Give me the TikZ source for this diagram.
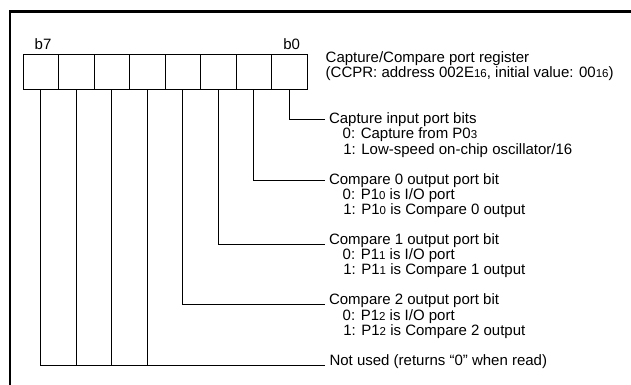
\documentclass[tikz,border=0pt]{standalone}
\usepackage{fontspec}
\setmainfont{Liberation Sans}
\newcommand{\sm}[1]{{\fontsize{11.5}{12}\selectfont #1}}
\tikzset{
  frameline/.style={line width=2.6pt,black},
  regcell/.style={draw=black,line width=0.8pt,minimum width=35.5pt,minimum height=35.5pt,inner sep=0pt,outer sep=0pt,anchor=north west},
  leader/.style={draw=black,line width=0.8pt},
  txt/.style={anchor=base west,inner sep=0pt,outer sep=0pt,font=\fontsize{15}{16}\selectfont,text=black}
}
\begin{document}
\begin{tikzpicture}[x=1pt,y=-1pt]
\useasboundingbox (0,0) rectangle (631,385);
\draw[frameline] (10,385) -- (10,11.3) -- (631,11.3);
\foreach \n/\i in {7/0,6/1,5/2,4/3,3/4,2/5,1/6,0/7}
  \node[regcell] (c\n) at ({23+35.5*\i},54) {};
\node[txt] (b7) at (34.7,50) {b7};
\node[txt] (b0) at (283.3,50) {b0};
\node[txt] (t1) at (325.7,63) {Capture/Compare port register};
\node[txt] (t2) at (325.7,78) {(CCPR: address 002E\sm{16}, initial value: 00\sm{16})};
\coordinate (e0) at (325,119.5);
\coordinate (e1) at (325,180);
\coordinate (e2) at (325,244);
\coordinate (e3) at (325,304.3);
\coordinate (e4) at (325,365);
\node[txt] (a0) at (329,124) {Capture input port bits};
\node[txt] (a1) at (342.7,139) {0: Capture from P0\sm{3}};
\node[txt] (a2) at (343.3,154) {1: Low-speed on-chip oscillator/16};
\node[txt] (b1) at (329,184.5) {Compare 0 output port bit};
\node[txt] (b2) at (342.7,199.5) {0: P1\sm{0} is I/O port};
\node[txt] (b3) at (343.3,214.5) {1: P1\sm{0} is Compare 0 output};
\node[txt] (d1) at (329,244.5) {Compare 1 output port bit};
\node[txt] (d2) at (342.7,259.5) {0: P1\sm{1} is I/O port};
\node[txt] (d3) at (343.3,274.5) {1: P1\sm{1} is Compare 1 output};
\node[txt] (f1) at (329,304.5) {Compare 2 output port bit};
\node[txt] (f2) at (342.7,320) {0: P1\sm{2} is I/O port};
\node[txt] (f3) at (343.3,335) {1: P1\sm{2} is Compare 2 output};
\node[txt] (g1) at (329.5,365) {Not used (returns “0” when read)};
\draw[leader] (c0.south) |- (e0);
\draw[leader] (c1.south) |- (e1);
\draw[leader] (c2.south) |- (e2);
\draw[leader] (c3.south) |- (e3);
\draw[leader] (c7.south) |- (e4);
\draw[leader] (c6.south) -- (c6.south |- e4);
\draw[leader] (c5.south) -- (c5.south |- e4);
\draw[leader] (c4.south) -- (c4.south |- e4);
\end{tikzpicture}
\end{document}
